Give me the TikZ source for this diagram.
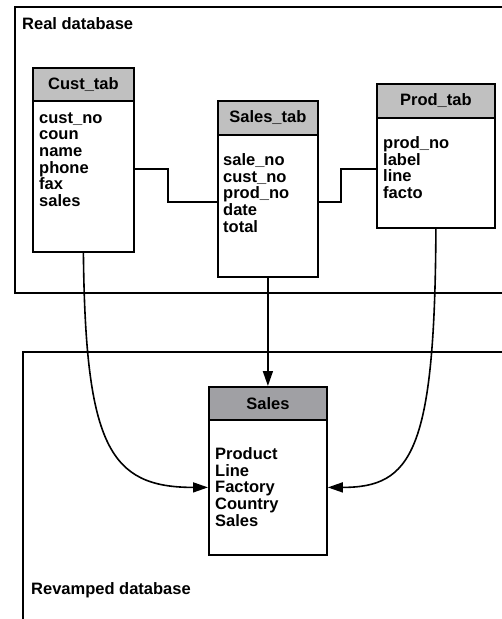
\documentclass[tikz,border=0pt]{standalone}
\usepackage{fontspec}
\setmainfont{Liberation Sans}
\usetikzlibrary{arrows.meta,calc}
\definecolor{hdrlight}{HTML}{C0C0C0}
\definecolor{hdrdark}{HTML}{A0A0A4}
\tikzset{
  frame/.style={draw, line width=1.6pt},
  hdr/.style={draw, line width=1.8pt, fill=hdrlight, anchor=north west, inner sep=0pt},
  tbody/.style={draw, line width=1.8pt, fill=white, anchor=north west, inner sep=0pt},
  fields/.style={anchor=base west, align=left, inner sep=0pt},
  lbl/.style={anchor=base west, inner sep=0pt},
  conn/.style={line width=1.6pt},
  arr/.style={conn, -{Triangle[length=15pt,width=10pt]}}
}
\begin{document}
\begin{tikzpicture}[x=1pt,y=-1pt,font=\fontsize{16.5}{16.7}\selectfont\bfseries]
\useasboundingbox (0,0) rectangle (502,619);
\clip (0,0) rectangle (502,619);
% frames
\draw[frame] (520,7) -| (15,293) -- (520,293);
\draw[frame] (520,352) -| (23,630);
\node[lbl] (reallbl) at (22,29) {Real database};
\node[lbl] (revlbl) at (31,594) {Revamped database};
% Cust_tab
\node[hdr, minimum width=101pt, minimum height=33pt] (custh) at (32,67) {Cust\_tab};
\node[tbody, minimum width=101pt, minimum height=151pt] (custb) at (32,100) {};
\node[fields] (custf) at (39,206.5) {cust\_no\\coun\\name\\phone\\fax\\sales};
% Sales_tab
\node[hdr, minimum width=100pt, minimum height=34pt] (stabh) at (217,100) {Sales\_tab};
\node[tbody, minimum width=100pt, minimum height=142pt] (stabb) at (217,134) {};
\node[fields] (stabf) at (223,232.3) {sale\_no\\cust\_no\\prod\_no\\date\\total};
% Prod_tab
\node[hdr, minimum width=118pt, minimum height=34pt] (prodh) at (376,83) {Prod\_tab};
\node[tbody, minimum width=118pt, minimum height=110pt] (prodb) at (376,117) {};
\node[fields] (prodf) at (383,198.6) {prod\_no\\label\\line\\facto};
% Sales
\node[hdr, fill=hdrdark, minimum width=118pt, minimum height=33pt] (salesh) at (208,386) {Sales};
\node[tbody, minimum width=118pt, minimum height=135pt] (salesb) at (208,419) {};
\node[fields] (salesf) at (215,526.3) {Product\\Line\\Factory\\Country\\Sales};
% connectors
\draw[conn] ([yshift=7.5pt]custb.east) -- ++(33,0) |- ([yshift=4pt]stabb.west);
\draw[conn] ([yshift=4pt]stabb.east) -- ++(22,0) |- ([yshift=4pt]prodb.west);
\draw[arr] (stabb.south) -- (salesh.north);
\draw[arr] (custb.south) .. controls ($(custb.south)+(2,194)$) and ($(salesb.west)+(-98,0)$) .. (salesb.west);
\draw[arr] (prodb.south) .. controls ($(prodb.south)+(-1,223)$) and ($(salesb.east)+(84,0)$) .. (salesb.east);
\end{tikzpicture}
\end{document}
